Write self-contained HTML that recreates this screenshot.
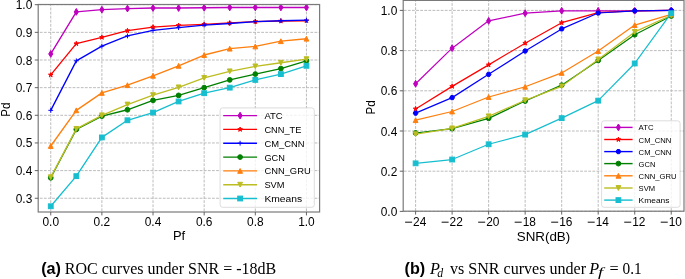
<!DOCTYPE html><html><head><meta charset="utf-8"><style>html,body{margin:0;padding:0;background:#fff;width:685px;height:279px;overflow:hidden}svg{display:block;will-change:transform}</style></head><body>
<svg width="685" height="279" viewBox="0 0 685 279">
<rect width="685" height="279" fill="#fff"/>
<defs><clipPath id="clipL"><rect x="38.2" y="4.5" width="281.4" height="207.5"/></clipPath></defs>
<path d="M50.75 212V4.5 M101.89 212V4.5 M153.03 212V4.5 M204.17 212V4.5 M255.31 212V4.5 M306.45 212V4.5" stroke="#b4b4b4" stroke-width="0.9" stroke-dasharray="2.8 1.3" stroke-dashoffset="3.3" fill="none"/>
<path d="M38.2 198.25H319.6 M38.2 170.6H319.6 M38.2 142.95H319.6 M38.2 115.3H319.6 M38.2 87.65H319.6 M38.2 60H319.6 M38.2 32.35H319.6 M38.2 4.7H319.6" stroke="#b4b4b4" stroke-width="0.9" stroke-dasharray="2.8 1.3" stroke-dashoffset="2.5" fill="none"/>
<g clip-path="url(#clipL)">
<polyline points="50.75,53.92 76.32,11.89 101.89,9.68 127.46,8.57 153.03,8.02 178.6,8.02 204.17,7.74 229.74,7.47 255.31,7.47 280.88,7.47 306.45,7.47" fill="none" stroke="#bf00bf" stroke-width="1.35" stroke-linejoin="round" stroke-linecap="butt"/>
<polygon points="50.75,50.52 52.79,53.92 50.75,57.31 48.71,53.92" fill="#bf00bf" stroke="#bf00bf" stroke-width="1.0" stroke-linejoin="miter"/>
<polygon points="76.32,8.5 78.36,11.89 76.32,15.28 74.28,11.89" fill="#bf00bf" stroke="#bf00bf" stroke-width="1.0" stroke-linejoin="miter"/>
<polygon points="101.89,6.28 103.93,9.68 101.89,13.07 99.85,9.68" fill="#bf00bf" stroke="#bf00bf" stroke-width="1.0" stroke-linejoin="miter"/>
<polygon points="127.46,5.18 129.5,8.57 127.46,11.96 125.42,8.57" fill="#bf00bf" stroke="#bf00bf" stroke-width="1.0" stroke-linejoin="miter"/>
<polygon points="153.03,4.62 155.07,8.02 153.03,11.41 150.99,8.02" fill="#bf00bf" stroke="#bf00bf" stroke-width="1.0" stroke-linejoin="miter"/>
<polygon points="178.6,4.62 180.64,8.02 178.6,11.41 176.56,8.02" fill="#bf00bf" stroke="#bf00bf" stroke-width="1.0" stroke-linejoin="miter"/>
<polygon points="204.17,4.35 206.21,7.74 204.17,11.14 202.13,7.74" fill="#bf00bf" stroke="#bf00bf" stroke-width="1.0" stroke-linejoin="miter"/>
<polygon points="229.74,4.07 231.78,7.47 229.74,10.86 227.7,7.47" fill="#bf00bf" stroke="#bf00bf" stroke-width="1.0" stroke-linejoin="miter"/>
<polygon points="255.31,4.07 257.35,7.47 255.31,10.86 253.27,7.47" fill="#bf00bf" stroke="#bf00bf" stroke-width="1.0" stroke-linejoin="miter"/>
<polygon points="280.88,4.07 282.92,7.47 280.88,10.86 278.84,7.47" fill="#bf00bf" stroke="#bf00bf" stroke-width="1.0" stroke-linejoin="miter"/>
<polygon points="306.45,4.07 308.49,7.47 306.45,10.86 304.41,7.47" fill="#bf00bf" stroke="#bf00bf" stroke-width="1.0" stroke-linejoin="miter"/>
<polyline points="50.75,74.93 76.32,43.69 101.89,37.33 127.46,30.69 153.03,27.1 178.6,25.44 204.17,24.33 229.74,22.95 255.31,21.57 280.88,21.01 306.45,20.74" fill="none" stroke="#ff0000" stroke-width="1.35" stroke-linejoin="round" stroke-linecap="butt"/>
<polygon points="50.75,72.53 51.29,74.19 53.03,74.19 51.62,75.21 52.16,76.87 50.75,75.85 49.34,76.87 49.88,75.21 48.47,74.19 50.21,74.19" fill="#ff0000" stroke="#ff0000" stroke-width="1.0" stroke-linejoin="miter"/>
<polygon points="76.32,41.29 76.86,42.94 78.6,42.94 77.19,43.97 77.73,45.63 76.32,44.6 74.91,45.63 75.45,43.97 74.04,42.94 75.78,42.94" fill="#ff0000" stroke="#ff0000" stroke-width="1.0" stroke-linejoin="miter"/>
<polygon points="101.89,34.93 102.43,36.59 104.17,36.59 102.76,37.61 103.3,39.27 101.89,38.24 100.48,39.27 101.02,37.61 99.61,36.59 101.35,36.59" fill="#ff0000" stroke="#ff0000" stroke-width="1.0" stroke-linejoin="miter"/>
<polygon points="127.46,28.29 128,29.95 129.74,29.95 128.33,30.97 128.87,32.63 127.46,31.61 126.05,32.63 126.59,30.97 125.18,29.95 126.92,29.95" fill="#ff0000" stroke="#ff0000" stroke-width="1.0" stroke-linejoin="miter"/>
<polygon points="153.03,24.7 153.57,26.35 155.31,26.35 153.9,27.38 154.44,29.04 153.03,28.01 151.62,29.04 152.16,27.38 150.75,26.35 152.49,26.35" fill="#ff0000" stroke="#ff0000" stroke-width="1.0" stroke-linejoin="miter"/>
<polygon points="178.6,23.04 179.14,24.7 180.88,24.7 179.47,25.72 180.01,27.38 178.6,26.35 177.19,27.38 177.73,25.72 176.32,24.7 178.06,24.7" fill="#ff0000" stroke="#ff0000" stroke-width="1.0" stroke-linejoin="miter"/>
<polygon points="204.17,21.93 204.71,23.59 206.45,23.59 205.04,24.61 205.58,26.27 204.17,25.25 202.76,26.27 203.3,24.61 201.89,23.59 203.63,23.59" fill="#ff0000" stroke="#ff0000" stroke-width="1.0" stroke-linejoin="miter"/>
<polygon points="229.74,20.55 230.28,22.21 232.02,22.21 230.61,23.23 231.15,24.89 229.74,23.87 228.33,24.89 228.87,23.23 227.46,22.21 229.2,22.21" fill="#ff0000" stroke="#ff0000" stroke-width="1.0" stroke-linejoin="miter"/>
<polygon points="255.31,19.17 255.85,20.82 257.59,20.82 256.18,21.85 256.72,23.51 255.31,22.48 253.9,23.51 254.44,21.85 253.03,20.82 254.77,20.82" fill="#ff0000" stroke="#ff0000" stroke-width="1.0" stroke-linejoin="miter"/>
<polygon points="280.88,18.61 281.42,20.27 283.16,20.27 281.75,21.3 282.29,22.96 280.88,21.93 279.47,22.96 280.01,21.3 278.6,20.27 280.34,20.27" fill="#ff0000" stroke="#ff0000" stroke-width="1.0" stroke-linejoin="miter"/>
<polygon points="306.45,18.34 306.99,20 308.73,20 307.32,21.02 307.86,22.68 306.45,21.65 305.04,22.68 305.58,21.02 304.17,20 305.91,20" fill="#ff0000" stroke="#ff0000" stroke-width="1.0" stroke-linejoin="miter"/>
<polyline points="50.75,110.32 76.32,60.83 101.89,46.17 127.46,35.94 153.03,30.41 178.6,27.65 204.17,25.16 229.74,23.5 255.31,21.57 280.88,20.74 306.45,20.18" fill="none" stroke="#0000ff" stroke-width="1.35" stroke-linejoin="round" stroke-linecap="butt"/>
<path d="M48.35 110.32H53.15M50.75 107.92V112.72" stroke="#0000ff" stroke-width="1.0" fill="none"/>
<path d="M73.92 60.83H78.72M76.32 58.43V63.23" stroke="#0000ff" stroke-width="1.0" fill="none"/>
<path d="M99.49 46.17H104.29M101.89 43.77V48.57" stroke="#0000ff" stroke-width="1.0" fill="none"/>
<path d="M125.06 35.94H129.86M127.46 33.54V38.34" stroke="#0000ff" stroke-width="1.0" fill="none"/>
<path d="M150.63 30.41H155.43M153.03 28.01V32.81" stroke="#0000ff" stroke-width="1.0" fill="none"/>
<path d="M176.2 27.65H181M178.6 25.25V30.05" stroke="#0000ff" stroke-width="1.0" fill="none"/>
<path d="M201.77 25.16H206.57M204.17 22.76V27.56" stroke="#0000ff" stroke-width="1.0" fill="none"/>
<path d="M227.34 23.5H232.14M229.74 21.1V25.9" stroke="#0000ff" stroke-width="1.0" fill="none"/>
<path d="M252.91 21.57H257.71M255.31 19.17V23.97" stroke="#0000ff" stroke-width="1.0" fill="none"/>
<path d="M278.48 20.74H283.28M280.88 18.34V23.14" stroke="#0000ff" stroke-width="1.0" fill="none"/>
<path d="M304.05 20.18H308.85M306.45 17.78V22.58" stroke="#0000ff" stroke-width="1.0" fill="none"/>
<polyline points="50.75,177.79 76.32,129.4 101.89,116.13 127.46,109.77 153.03,100.37 178.6,95.39 204.17,87.65 229.74,79.91 255.31,74.1 280.88,68.57 306.45,60.83" fill="none" stroke="#008000" stroke-width="1.35" stroke-linejoin="round" stroke-linecap="butt"/>
<circle cx="50.75" cy="177.79" r="2.4" fill="#008000" stroke="#008000" stroke-width="1.0"/>
<circle cx="76.32" cy="129.4" r="2.4" fill="#008000" stroke="#008000" stroke-width="1.0"/>
<circle cx="101.89" cy="116.13" r="2.4" fill="#008000" stroke="#008000" stroke-width="1.0"/>
<circle cx="127.46" cy="109.77" r="2.4" fill="#008000" stroke="#008000" stroke-width="1.0"/>
<circle cx="153.03" cy="100.37" r="2.4" fill="#008000" stroke="#008000" stroke-width="1.0"/>
<circle cx="178.6" cy="95.39" r="2.4" fill="#008000" stroke="#008000" stroke-width="1.0"/>
<circle cx="204.17" cy="87.65" r="2.4" fill="#008000" stroke="#008000" stroke-width="1.0"/>
<circle cx="229.74" cy="79.91" r="2.4" fill="#008000" stroke="#008000" stroke-width="1.0"/>
<circle cx="255.31" cy="74.1" r="2.4" fill="#008000" stroke="#008000" stroke-width="1.0"/>
<circle cx="280.88" cy="68.57" r="2.4" fill="#008000" stroke="#008000" stroke-width="1.0"/>
<circle cx="306.45" cy="60.83" r="2.4" fill="#008000" stroke="#008000" stroke-width="1.0"/>
<polyline points="50.75,145.99 76.32,110.32 101.89,92.9 127.46,85.16 153.03,75.76 178.6,65.81 204.17,55.02 229.74,48.66 255.31,46.45 280.88,41.2 306.45,38.71" fill="none" stroke="#ff7f0e" stroke-width="1.35" stroke-linejoin="round" stroke-linecap="butt"/>
<polygon points="50.75,143.59 48.35,148.39 53.15,148.39" fill="#ff7f0e" stroke="#ff7f0e" stroke-width="1.0"/>
<polygon points="76.32,107.92 73.92,112.72 78.72,112.72" fill="#ff7f0e" stroke="#ff7f0e" stroke-width="1.0"/>
<polygon points="101.89,90.5 99.49,95.3 104.29,95.3" fill="#ff7f0e" stroke="#ff7f0e" stroke-width="1.0"/>
<polygon points="127.46,82.76 125.06,87.56 129.86,87.56" fill="#ff7f0e" stroke="#ff7f0e" stroke-width="1.0"/>
<polygon points="153.03,73.36 150.63,78.16 155.43,78.16" fill="#ff7f0e" stroke="#ff7f0e" stroke-width="1.0"/>
<polygon points="178.6,63.41 176.2,68.21 181,68.21" fill="#ff7f0e" stroke="#ff7f0e" stroke-width="1.0"/>
<polygon points="204.17,52.62 201.77,57.42 206.57,57.42" fill="#ff7f0e" stroke="#ff7f0e" stroke-width="1.0"/>
<polygon points="229.74,46.26 227.34,51.06 232.14,51.06" fill="#ff7f0e" stroke="#ff7f0e" stroke-width="1.0"/>
<polygon points="255.31,44.05 252.91,48.85 257.71,48.85" fill="#ff7f0e" stroke="#ff7f0e" stroke-width="1.0"/>
<polygon points="280.88,38.8 278.48,43.6 283.28,43.6" fill="#ff7f0e" stroke="#ff7f0e" stroke-width="1.0"/>
<polygon points="306.45,36.31 304.05,41.11 308.85,41.11" fill="#ff7f0e" stroke="#ff7f0e" stroke-width="1.0"/>
<polyline points="50.75,177.24 76.32,128.85 101.89,115.3 127.46,104.52 153.03,95.12 178.6,87.37 204.17,77.97 229.74,71.34 255.31,66.36 280.88,62.76 306.45,59.17" fill="none" stroke="#bcbd22" stroke-width="1.35" stroke-linejoin="round" stroke-linecap="butt"/>
<polygon points="50.75,179.64 48.35,174.84 53.15,174.84" fill="#bcbd22" stroke="#bcbd22" stroke-width="1.0"/>
<polygon points="76.32,131.25 73.92,126.45 78.72,126.45" fill="#bcbd22" stroke="#bcbd22" stroke-width="1.0"/>
<polygon points="101.89,117.7 99.49,112.9 104.29,112.9" fill="#bcbd22" stroke="#bcbd22" stroke-width="1.0"/>
<polygon points="127.46,106.92 125.06,102.12 129.86,102.12" fill="#bcbd22" stroke="#bcbd22" stroke-width="1.0"/>
<polygon points="153.03,97.52 150.63,92.72 155.43,92.72" fill="#bcbd22" stroke="#bcbd22" stroke-width="1.0"/>
<polygon points="178.6,89.77 176.2,84.97 181,84.97" fill="#bcbd22" stroke="#bcbd22" stroke-width="1.0"/>
<polygon points="204.17,80.37 201.77,75.57 206.57,75.57" fill="#bcbd22" stroke="#bcbd22" stroke-width="1.0"/>
<polygon points="229.74,73.74 227.34,68.94 232.14,68.94" fill="#bcbd22" stroke="#bcbd22" stroke-width="1.0"/>
<polygon points="255.31,68.76 252.91,63.96 257.71,63.96" fill="#bcbd22" stroke="#bcbd22" stroke-width="1.0"/>
<polygon points="280.88,65.16 278.48,60.36 283.28,60.36" fill="#bcbd22" stroke="#bcbd22" stroke-width="1.0"/>
<polygon points="306.45,61.57 304.05,56.77 308.85,56.77" fill="#bcbd22" stroke="#bcbd22" stroke-width="1.0"/>
<polyline points="50.75,206.27 76.32,176.13 101.89,137.42 127.46,120.28 153.03,112.53 178.6,101.47 204.17,93.18 229.74,87.65 255.31,79.91 280.88,74.1 306.45,65.81" fill="none" stroke="#17becf" stroke-width="1.35" stroke-linejoin="round" stroke-linecap="butt"/>
<rect x="48.35" y="203.87" width="4.8" height="4.8" fill="#17becf" stroke="#17becf" stroke-width="1.0"/>
<rect x="73.92" y="173.73" width="4.8" height="4.8" fill="#17becf" stroke="#17becf" stroke-width="1.0"/>
<rect x="99.49" y="135.02" width="4.8" height="4.8" fill="#17becf" stroke="#17becf" stroke-width="1.0"/>
<rect x="125.06" y="117.88" width="4.8" height="4.8" fill="#17becf" stroke="#17becf" stroke-width="1.0"/>
<rect x="150.63" y="110.13" width="4.8" height="4.8" fill="#17becf" stroke="#17becf" stroke-width="1.0"/>
<rect x="176.2" y="99.07" width="4.8" height="4.8" fill="#17becf" stroke="#17becf" stroke-width="1.0"/>
<rect x="201.77" y="90.78" width="4.8" height="4.8" fill="#17becf" stroke="#17becf" stroke-width="1.0"/>
<rect x="227.34" y="85.25" width="4.8" height="4.8" fill="#17becf" stroke="#17becf" stroke-width="1.0"/>
<rect x="252.91" y="77.51" width="4.8" height="4.8" fill="#17becf" stroke="#17becf" stroke-width="1.0"/>
<rect x="278.48" y="71.7" width="4.8" height="4.8" fill="#17becf" stroke="#17becf" stroke-width="1.0"/>
<rect x="304.05" y="63.41" width="4.8" height="4.8" fill="#17becf" stroke="#17becf" stroke-width="1.0"/>
</g>
<rect x="38.2" y="4.5" width="281.4" height="207.5" fill="none" stroke="#7a7a7a" stroke-width="1.2"/>
<path d="M50.75 212v3.4 M101.89 212v3.4 M153.03 212v3.4 M204.17 212v3.4 M255.31 212v3.4 M306.45 212v3.4 M38.2 198.25h-3.4 M38.2 170.6h-3.4 M38.2 142.95h-3.4 M38.2 115.3h-3.4 M38.2 87.65h-3.4 M38.2 60h-3.4 M38.2 32.35h-3.4 M38.2 4.7h-3.4" stroke="#555" stroke-width="0.9" fill="none"/>
<text x="50.75" y="225.6" font-size="11.9" text-anchor="middle" font-family='"Liberation Sans", sans-serif' textLength="16.54" lengthAdjust="spacingAndGlyphs">0.0</text>
<text x="101.89" y="225.6" font-size="11.9" text-anchor="middle" font-family='"Liberation Sans", sans-serif' textLength="16.54" lengthAdjust="spacingAndGlyphs">0.2</text>
<text x="153.03" y="225.6" font-size="11.9" text-anchor="middle" font-family='"Liberation Sans", sans-serif' textLength="16.54" lengthAdjust="spacingAndGlyphs">0.4</text>
<text x="204.17" y="225.6" font-size="11.9" text-anchor="middle" font-family='"Liberation Sans", sans-serif' textLength="16.54" lengthAdjust="spacingAndGlyphs">0.6</text>
<text x="255.31" y="225.6" font-size="11.9" text-anchor="middle" font-family='"Liberation Sans", sans-serif' textLength="16.54" lengthAdjust="spacingAndGlyphs">0.8</text>
<text x="306.45" y="225.6" font-size="11.9" text-anchor="middle" font-family='"Liberation Sans", sans-serif' textLength="16.54" lengthAdjust="spacingAndGlyphs">1.0</text>
<text x="32.3" y="202.75" font-size="11.9" text-anchor="end" font-family='"Liberation Sans", sans-serif' textLength="16.54" lengthAdjust="spacingAndGlyphs">0.3</text>
<text x="32.3" y="175.1" font-size="11.9" text-anchor="end" font-family='"Liberation Sans", sans-serif' textLength="16.54" lengthAdjust="spacingAndGlyphs">0.4</text>
<text x="32.3" y="147.45" font-size="11.9" text-anchor="end" font-family='"Liberation Sans", sans-serif' textLength="16.54" lengthAdjust="spacingAndGlyphs">0.5</text>
<text x="32.3" y="119.8" font-size="11.9" text-anchor="end" font-family='"Liberation Sans", sans-serif' textLength="16.54" lengthAdjust="spacingAndGlyphs">0.6</text>
<text x="32.3" y="92.15" font-size="11.9" text-anchor="end" font-family='"Liberation Sans", sans-serif' textLength="16.54" lengthAdjust="spacingAndGlyphs">0.7</text>
<text x="32.3" y="64.5" font-size="11.9" text-anchor="end" font-family='"Liberation Sans", sans-serif' textLength="16.54" lengthAdjust="spacingAndGlyphs">0.8</text>
<text x="32.3" y="36.85" font-size="11.9" text-anchor="end" font-family='"Liberation Sans", sans-serif' textLength="16.54" lengthAdjust="spacingAndGlyphs">0.9</text>
<text x="32.3" y="9.2" font-size="11.9" text-anchor="end" font-family='"Liberation Sans", sans-serif' textLength="16.54" lengthAdjust="spacingAndGlyphs">1.0</text>
<text x="179" y="240.4" font-size="13" text-anchor="middle" font-family='"Liberation Sans", sans-serif' textLength="12.22" lengthAdjust="spacingAndGlyphs">Pf</text>
<text transform="translate(9.7 109.6) rotate(-90)" font-size="13" text-anchor="middle" font-family='"Liberation Sans", sans-serif' textLength="14.1" lengthAdjust="spacingAndGlyphs">Pd</text>
<rect x="220.1" y="107.9" width="94.2" height="99.4" rx="2.5" ry="2.5" fill="#ffffff" fill-opacity="0.8" stroke="#d4d4d4" stroke-width="0.8"/>
<path d="M223.2 115.6H257" stroke="#bf00bf" stroke-width="1.4"/>
<polygon points="240.1,112.21 242.14,115.6 240.1,118.99 238.06,115.6" fill="#bf00bf" stroke="#bf00bf" stroke-width="1.0" stroke-linejoin="miter"/>
<text x="264.4" y="119.1" font-size="9.7" text-anchor="start" font-family='"Liberation Sans", sans-serif' textLength="18.27" lengthAdjust="spacingAndGlyphs">ATC</text>
<path d="M223.2 129.4H257" stroke="#ff0000" stroke-width="1.4"/>
<polygon points="240.1,127 240.64,128.66 242.38,128.66 240.97,129.68 241.51,131.34 240.1,130.32 238.69,131.34 239.23,129.68 237.82,128.66 239.56,128.66" fill="#ff0000" stroke="#ff0000" stroke-width="1.0" stroke-linejoin="miter"/>
<text x="264.4" y="132.9" font-size="9.7" text-anchor="start" font-family='"Liberation Sans", sans-serif' textLength="37.03" lengthAdjust="spacingAndGlyphs">CNN_TE</text>
<path d="M223.2 143.2H257" stroke="#0000ff" stroke-width="1.4"/>
<path d="M237.7 143.2H242.5M240.1 140.8V145.6" stroke="#0000ff" stroke-width="1.0" fill="none"/>
<text x="264.4" y="146.7" font-size="9.7" text-anchor="start" font-family='"Liberation Sans", sans-serif' textLength="40.1" lengthAdjust="spacingAndGlyphs">CM_CNN</text>
<path d="M223.2 157.1H257" stroke="#008000" stroke-width="1.4"/>
<circle cx="240.1" cy="157.1" r="2.4" fill="#008000" stroke="#008000" stroke-width="1.0"/>
<text x="264.4" y="160.6" font-size="9.7" text-anchor="start" font-family='"Liberation Sans", sans-serif' textLength="20.47" lengthAdjust="spacingAndGlyphs">GCN</text>
<path d="M223.2 170.9H257" stroke="#ff7f0e" stroke-width="1.4"/>
<polygon points="240.1,168.5 237.7,173.3 242.5,173.3" fill="#ff7f0e" stroke="#ff7f0e" stroke-width="1.0"/>
<text x="264.4" y="174.4" font-size="9.7" text-anchor="start" font-family='"Liberation Sans", sans-serif' textLength="46.28" lengthAdjust="spacingAndGlyphs">CNN_GRU</text>
<path d="M223.2 184.7H257" stroke="#bcbd22" stroke-width="1.4"/>
<polygon points="240.1,187.1 237.7,182.3 242.5,182.3" fill="#bcbd22" stroke="#bcbd22" stroke-width="1.0"/>
<text x="264.4" y="188.2" font-size="9.7" text-anchor="start" font-family='"Liberation Sans", sans-serif' textLength="20.09" lengthAdjust="spacingAndGlyphs">SVM</text>
<path d="M223.2 198.5H257" stroke="#17becf" stroke-width="1.4"/>
<rect x="237.7" y="196.1" width="4.8" height="4.8" fill="#17becf" stroke="#17becf" stroke-width="1.0"/>
<text x="264.4" y="202" font-size="9.7" text-anchor="start" font-family='"Liberation Sans", sans-serif' textLength="37.76" lengthAdjust="spacingAndGlyphs">Kmeans</text>
<defs><clipPath id="clipR"><rect x="403.2" y="0.4" width="280.8" height="210.8"/></clipPath></defs>
<path d="M415.6 211.2V0.4 M452.12 211.2V0.4 M488.64 211.2V0.4 M525.16 211.2V0.4 M561.68 211.2V0.4 M598.2 211.2V0.4 M634.72 211.2V0.4 M671.24 211.2V0.4" stroke="#b4b4b4" stroke-width="0.9" stroke-dasharray="2.8 1.3" stroke-dashoffset="3.8" fill="none"/>
<path d="M403.2 211.4H684 M403.2 171.2H684 M403.2 131H684 M403.2 90.8H684 M403.2 50.6H684 M403.2 10.4H684" stroke="#b4b4b4" stroke-width="0.9" stroke-dasharray="2.8 1.3" stroke-dashoffset="3.5" fill="none"/>
<g clip-path="url(#clipR)">
<polyline points="415.6,83.77 452.12,48.19 488.64,20.85 525.16,13.21 561.68,10.8 598.2,10.8 634.72,10.8 671.24,10.4" fill="none" stroke="#bf00bf" stroke-width="1.2" stroke-linejoin="round" stroke-linecap="butt"/>
<polygon points="415.6,80.37 417.64,83.77 415.6,87.16 413.56,83.77" fill="#bf00bf" stroke="#bf00bf" stroke-width="1.0" stroke-linejoin="miter"/>
<polygon points="452.12,44.79 454.16,48.19 452.12,51.58 450.08,48.19" fill="#bf00bf" stroke="#bf00bf" stroke-width="1.0" stroke-linejoin="miter"/>
<polygon points="488.64,17.46 490.68,20.85 488.64,24.25 486.6,20.85" fill="#bf00bf" stroke="#bf00bf" stroke-width="1.0" stroke-linejoin="miter"/>
<polygon points="525.16,9.82 527.2,13.21 525.16,16.61 523.12,13.21" fill="#bf00bf" stroke="#bf00bf" stroke-width="1.0" stroke-linejoin="miter"/>
<polygon points="561.68,7.41 563.72,10.8 561.68,14.2 559.64,10.8" fill="#bf00bf" stroke="#bf00bf" stroke-width="1.0" stroke-linejoin="miter"/>
<polygon points="598.2,7.41 600.24,10.8 598.2,14.2 596.16,10.8" fill="#bf00bf" stroke="#bf00bf" stroke-width="1.0" stroke-linejoin="miter"/>
<polygon points="634.72,7.41 636.76,10.8 634.72,14.2 632.68,10.8" fill="#bf00bf" stroke="#bf00bf" stroke-width="1.0" stroke-linejoin="miter"/>
<polygon points="671.24,7.01 673.28,10.4 671.24,13.79 669.2,10.4" fill="#bf00bf" stroke="#bf00bf" stroke-width="1.0" stroke-linejoin="miter"/>
<polyline points="415.6,108.89 452.12,86.38 488.64,64.87 525.16,43.16 561.68,22.66 598.2,12.61 634.72,10.8 671.24,10.4" fill="none" stroke="#ff0000" stroke-width="1.2" stroke-linejoin="round" stroke-linecap="butt"/>
<polygon points="415.6,106.49 416.14,108.15 417.88,108.15 416.47,109.17 417.01,110.83 415.6,109.81 414.19,110.83 414.73,109.17 413.32,108.15 415.06,108.15" fill="#ff0000" stroke="#ff0000" stroke-width="1.0" stroke-linejoin="miter"/>
<polygon points="452.12,83.98 452.66,85.64 454.4,85.64 452.99,86.66 453.53,88.32 452.12,87.29 450.71,88.32 451.25,86.66 449.84,85.64 451.58,85.64" fill="#ff0000" stroke="#ff0000" stroke-width="1.0" stroke-linejoin="miter"/>
<polygon points="488.64,62.47 489.18,64.13 490.92,64.13 489.51,65.15 490.05,66.81 488.64,65.79 487.23,66.81 487.77,65.15 486.36,64.13 488.1,64.13" fill="#ff0000" stroke="#ff0000" stroke-width="1.0" stroke-linejoin="miter"/>
<polygon points="525.16,40.76 525.7,42.42 527.44,42.42 526.03,43.45 526.57,45.1 525.16,44.08 523.75,45.1 524.29,43.45 522.88,42.42 524.62,42.42" fill="#ff0000" stroke="#ff0000" stroke-width="1.0" stroke-linejoin="miter"/>
<polygon points="561.68,20.26 562.22,21.92 563.96,21.92 562.55,22.94 563.09,24.6 561.68,23.58 560.27,24.6 560.81,22.94 559.4,21.92 561.14,21.92" fill="#ff0000" stroke="#ff0000" stroke-width="1.0" stroke-linejoin="miter"/>
<polygon points="598.2,10.21 598.74,11.87 600.48,11.87 599.07,12.89 599.61,14.55 598.2,13.53 596.79,14.55 597.33,12.89 595.92,11.87 597.66,11.87" fill="#ff0000" stroke="#ff0000" stroke-width="1.0" stroke-linejoin="miter"/>
<polygon points="634.72,8.4 635.26,10.06 637,10.06 635.59,11.09 636.13,12.74 634.72,11.72 633.31,12.74 633.85,11.09 632.44,10.06 634.18,10.06" fill="#ff0000" stroke="#ff0000" stroke-width="1.0" stroke-linejoin="miter"/>
<polygon points="671.24,8 671.78,9.66 673.52,9.66 672.11,10.68 672.65,12.34 671.24,11.32 669.83,12.34 670.37,10.68 668.96,9.66 670.7,9.66" fill="#ff0000" stroke="#ff0000" stroke-width="1.0" stroke-linejoin="miter"/>
<polyline points="415.6,113.11 452.12,97.63 488.64,74.32 525.16,51 561.68,28.89 598.2,13.01 634.72,10.8 671.24,10.4" fill="none" stroke="#0000ff" stroke-width="1.2" stroke-linejoin="round" stroke-linecap="butt"/>
<polygon points="418,113.11 416.8,115.19 414.4,115.19 413.2,113.11 414.4,111.03 416.8,111.03" fill="#0000ff" stroke="#0000ff" stroke-width="1.0"/>
<polygon points="454.52,97.63 453.32,99.71 450.92,99.71 449.72,97.63 450.92,95.56 453.32,95.56" fill="#0000ff" stroke="#0000ff" stroke-width="1.0"/>
<polygon points="491.04,74.32 489.84,76.4 487.44,76.4 486.24,74.32 487.44,72.24 489.84,72.24" fill="#0000ff" stroke="#0000ff" stroke-width="1.0"/>
<polygon points="527.56,51 526.36,53.08 523.96,53.08 522.76,51 523.96,48.92 526.36,48.92" fill="#0000ff" stroke="#0000ff" stroke-width="1.0"/>
<polygon points="564.08,28.89 562.88,30.97 560.48,30.97 559.28,28.89 560.48,26.81 562.88,26.81" fill="#0000ff" stroke="#0000ff" stroke-width="1.0"/>
<polygon points="600.6,13.01 599.4,15.09 597,15.09 595.8,13.01 597,10.93 599.4,10.93" fill="#0000ff" stroke="#0000ff" stroke-width="1.0"/>
<polygon points="637.12,10.8 635.92,12.88 633.52,12.88 632.32,10.8 633.52,8.72 635.92,8.72" fill="#0000ff" stroke="#0000ff" stroke-width="1.0"/>
<polygon points="673.64,10.4 672.44,12.48 670.04,12.48 668.84,10.4 670.04,8.32 672.44,8.32" fill="#0000ff" stroke="#0000ff" stroke-width="1.0"/>
<polyline points="415.6,133.01 452.12,128.59 488.64,118.34 525.16,101.05 561.68,85.17 598.2,60.45 634.72,34.72 671.24,16.03" fill="none" stroke="#008000" stroke-width="1.2" stroke-linejoin="round" stroke-linecap="butt"/>
<circle cx="415.6" cy="133.01" r="2.4" fill="#008000" stroke="#008000" stroke-width="1.0"/>
<circle cx="452.12" cy="128.59" r="2.4" fill="#008000" stroke="#008000" stroke-width="1.0"/>
<circle cx="488.64" cy="118.34" r="2.4" fill="#008000" stroke="#008000" stroke-width="1.0"/>
<circle cx="525.16" cy="101.05" r="2.4" fill="#008000" stroke="#008000" stroke-width="1.0"/>
<circle cx="561.68" cy="85.17" r="2.4" fill="#008000" stroke="#008000" stroke-width="1.0"/>
<circle cx="598.2" cy="60.45" r="2.4" fill="#008000" stroke="#008000" stroke-width="1.0"/>
<circle cx="634.72" cy="34.72" r="2.4" fill="#008000" stroke="#008000" stroke-width="1.0"/>
<circle cx="671.24" cy="16.03" r="2.4" fill="#008000" stroke="#008000" stroke-width="1.0"/>
<polyline points="415.6,120.15 452.12,111.5 488.64,97.03 525.16,86.78 561.68,72.91 598.2,51 634.72,25.07 671.24,14.42" fill="none" stroke="#ff7f0e" stroke-width="1.2" stroke-linejoin="round" stroke-linecap="butt"/>
<polygon points="415.6,117.75 413.2,122.55 418,122.55" fill="#ff7f0e" stroke="#ff7f0e" stroke-width="1.0"/>
<polygon points="452.12,109.1 449.72,113.9 454.52,113.9" fill="#ff7f0e" stroke="#ff7f0e" stroke-width="1.0"/>
<polygon points="488.64,94.63 486.24,99.43 491.04,99.43" fill="#ff7f0e" stroke="#ff7f0e" stroke-width="1.0"/>
<polygon points="525.16,84.38 522.76,89.18 527.56,89.18" fill="#ff7f0e" stroke="#ff7f0e" stroke-width="1.0"/>
<polygon points="561.68,70.51 559.28,75.31 564.08,75.31" fill="#ff7f0e" stroke="#ff7f0e" stroke-width="1.0"/>
<polygon points="598.2,48.6 595.8,53.4 600.6,53.4" fill="#ff7f0e" stroke="#ff7f0e" stroke-width="1.0"/>
<polygon points="634.72,22.67 632.32,27.47 637.12,27.47" fill="#ff7f0e" stroke="#ff7f0e" stroke-width="1.0"/>
<polygon points="671.24,12.02 668.84,16.82 673.64,16.82" fill="#ff7f0e" stroke="#ff7f0e" stroke-width="1.0"/>
<polyline points="415.6,134.22 452.12,128.39 488.64,116.33 525.16,100.25 561.68,86.38 598.2,59.44 634.72,31.91 671.24,15.22" fill="none" stroke="#bcbd22" stroke-width="1.2" stroke-linejoin="round" stroke-linecap="butt"/>
<polygon points="415.6,136.62 413.2,131.82 418,131.82" fill="#bcbd22" stroke="#bcbd22" stroke-width="1.0"/>
<polygon points="452.12,130.79 449.72,125.99 454.52,125.99" fill="#bcbd22" stroke="#bcbd22" stroke-width="1.0"/>
<polygon points="488.64,118.73 486.24,113.93 491.04,113.93" fill="#bcbd22" stroke="#bcbd22" stroke-width="1.0"/>
<polygon points="525.16,102.65 522.76,97.85 527.56,97.85" fill="#bcbd22" stroke="#bcbd22" stroke-width="1.0"/>
<polygon points="561.68,88.78 559.28,83.98 564.08,83.98" fill="#bcbd22" stroke="#bcbd22" stroke-width="1.0"/>
<polygon points="598.2,61.84 595.8,57.04 600.6,57.04" fill="#bcbd22" stroke="#bcbd22" stroke-width="1.0"/>
<polygon points="634.72,34.31 632.32,29.51 637.12,29.51" fill="#bcbd22" stroke="#bcbd22" stroke-width="1.0"/>
<polygon points="671.24,17.62 668.84,12.82 673.64,12.82" fill="#bcbd22" stroke="#bcbd22" stroke-width="1.0"/>
<polyline points="415.6,163.36 452.12,159.54 488.64,144.27 525.16,134.62 561.68,118.14 598.2,100.65 634.72,63.46 671.24,13.21" fill="none" stroke="#17becf" stroke-width="1.2" stroke-linejoin="round" stroke-linecap="butt"/>
<rect x="413.2" y="160.96" width="4.8" height="4.8" fill="#17becf" stroke="#17becf" stroke-width="1.0"/>
<rect x="449.72" y="157.14" width="4.8" height="4.8" fill="#17becf" stroke="#17becf" stroke-width="1.0"/>
<rect x="486.24" y="141.87" width="4.8" height="4.8" fill="#17becf" stroke="#17becf" stroke-width="1.0"/>
<rect x="522.76" y="132.22" width="4.8" height="4.8" fill="#17becf" stroke="#17becf" stroke-width="1.0"/>
<rect x="559.28" y="115.74" width="4.8" height="4.8" fill="#17becf" stroke="#17becf" stroke-width="1.0"/>
<rect x="595.8" y="98.25" width="4.8" height="4.8" fill="#17becf" stroke="#17becf" stroke-width="1.0"/>
<rect x="632.32" y="61.06" width="4.8" height="4.8" fill="#17becf" stroke="#17becf" stroke-width="1.0"/>
<rect x="668.84" y="10.81" width="4.8" height="4.8" fill="#17becf" stroke="#17becf" stroke-width="1.0"/>
</g>
<rect x="403.2" y="0.4" width="280.8" height="210.8" fill="none" stroke="#7a7a7a" stroke-width="1.2"/>
<path d="M415.6 211.2v3.4 M452.12 211.2v3.4 M488.64 211.2v3.4 M525.16 211.2v3.4 M561.68 211.2v3.4 M598.2 211.2v3.4 M634.72 211.2v3.4 M671.24 211.2v3.4 M403.2 211.4h-3.4 M403.2 171.2h-3.4 M403.2 131h-3.4 M403.2 90.8h-3.4 M403.2 50.6h-3.4 M403.2 10.4h-3.4" stroke="#555" stroke-width="0.9" fill="none"/>
<rect x="405.1" y="221.7" width="7.0" height="0.95" fill="#000"/>
<text x="413.1" y="225.6" font-size="11.9" text-anchor="start" font-family='"Liberation Sans", sans-serif'>24</text>
<rect x="441.62" y="221.7" width="7.0" height="0.95" fill="#000"/>
<text x="449.62" y="225.6" font-size="11.9" text-anchor="start" font-family='"Liberation Sans", sans-serif'>22</text>
<rect x="478.14" y="221.7" width="7.0" height="0.95" fill="#000"/>
<text x="486.14" y="225.6" font-size="11.9" text-anchor="start" font-family='"Liberation Sans", sans-serif'>20</text>
<rect x="514.66" y="221.7" width="7.0" height="0.95" fill="#000"/>
<text x="522.66" y="225.6" font-size="11.9" text-anchor="start" font-family='"Liberation Sans", sans-serif'>18</text>
<rect x="551.18" y="221.7" width="7.0" height="0.95" fill="#000"/>
<text x="559.18" y="225.6" font-size="11.9" text-anchor="start" font-family='"Liberation Sans", sans-serif'>16</text>
<rect x="587.7" y="221.7" width="7.0" height="0.95" fill="#000"/>
<text x="595.7" y="225.6" font-size="11.9" text-anchor="start" font-family='"Liberation Sans", sans-serif'>14</text>
<rect x="624.22" y="221.7" width="7.0" height="0.95" fill="#000"/>
<text x="632.22" y="225.6" font-size="11.9" text-anchor="start" font-family='"Liberation Sans", sans-serif'>12</text>
<rect x="660.74" y="221.7" width="7.0" height="0.95" fill="#000"/>
<text x="668.74" y="225.6" font-size="11.9" text-anchor="start" font-family='"Liberation Sans", sans-serif'>10</text>
<text x="397.3" y="215.9" font-size="11.9" text-anchor="end" font-family='"Liberation Sans", sans-serif' textLength="16.54" lengthAdjust="spacingAndGlyphs">0.0</text>
<text x="397.3" y="175.7" font-size="11.9" text-anchor="end" font-family='"Liberation Sans", sans-serif' textLength="16.54" lengthAdjust="spacingAndGlyphs">0.2</text>
<text x="397.3" y="135.5" font-size="11.9" text-anchor="end" font-family='"Liberation Sans", sans-serif' textLength="16.54" lengthAdjust="spacingAndGlyphs">0.4</text>
<text x="397.3" y="95.3" font-size="11.9" text-anchor="end" font-family='"Liberation Sans", sans-serif' textLength="16.54" lengthAdjust="spacingAndGlyphs">0.6</text>
<text x="397.3" y="55.1" font-size="11.9" text-anchor="end" font-family='"Liberation Sans", sans-serif' textLength="16.54" lengthAdjust="spacingAndGlyphs">0.8</text>
<text x="397.3" y="14.9" font-size="11.9" text-anchor="end" font-family='"Liberation Sans", sans-serif' textLength="16.54" lengthAdjust="spacingAndGlyphs">1.0</text>
<text x="543.5" y="240.8" font-size="13" text-anchor="middle" font-family='"Liberation Sans", sans-serif' textLength="53.49" lengthAdjust="spacingAndGlyphs">SNR(dB)</text>
<text transform="translate(375.2 107.5) rotate(-90)" font-size="13" text-anchor="middle" font-family='"Liberation Sans", sans-serif' textLength="14.1" lengthAdjust="spacingAndGlyphs">Pd</text>
<rect x="601.6" y="120.8" width="78.5" height="86.5" rx="2.5" ry="2.5" fill="#ffffff" fill-opacity="0.8" stroke="#d4d4d4" stroke-width="0.8"/>
<path d="M604.2 127.4H632.6" stroke="#bf00bf" stroke-width="1.4"/>
<polygon points="618.4,124.01 620.44,127.4 618.4,130.79 616.36,127.4" fill="#bf00bf" stroke="#bf00bf" stroke-width="1.0" stroke-linejoin="miter"/>
<text x="638.6" y="130.4" font-size="7.9" text-anchor="start" font-family='"Liberation Sans", sans-serif' textLength="14.95" lengthAdjust="spacingAndGlyphs">ATC</text>
<path d="M604.2 139.5H632.6" stroke="#ff0000" stroke-width="1.4"/>
<polygon points="618.4,137.1 618.94,138.76 620.68,138.76 619.27,139.78 619.81,141.44 618.4,140.42 616.99,141.44 617.53,139.78 616.12,138.76 617.86,138.76" fill="#ff0000" stroke="#ff0000" stroke-width="1.0" stroke-linejoin="miter"/>
<text x="638.6" y="142.5" font-size="7.9" text-anchor="start" font-family='"Liberation Sans", sans-serif' textLength="32.82" lengthAdjust="spacingAndGlyphs">CM_CNN</text>
<path d="M604.2 151.6H632.6" stroke="#0000ff" stroke-width="1.4"/>
<polygon points="620.8,151.6 619.6,153.68 617.2,153.68 616,151.6 617.2,149.52 619.6,149.52" fill="#0000ff" stroke="#0000ff" stroke-width="1.0"/>
<text x="638.6" y="154.6" font-size="7.9" text-anchor="start" font-family='"Liberation Sans", sans-serif' textLength="32.82" lengthAdjust="spacingAndGlyphs">CM_CNN</text>
<path d="M604.2 163.6H632.6" stroke="#008000" stroke-width="1.4"/>
<circle cx="618.4" cy="163.6" r="2.4" fill="#008000" stroke="#008000" stroke-width="1.0"/>
<text x="638.6" y="166.6" font-size="7.9" text-anchor="start" font-family='"Liberation Sans", sans-serif' textLength="16.76" lengthAdjust="spacingAndGlyphs">GCN</text>
<path d="M604.2 175.8H632.6" stroke="#ff7f0e" stroke-width="1.4"/>
<polygon points="618.4,173.4 616,178.2 620.8,178.2" fill="#ff7f0e" stroke="#ff7f0e" stroke-width="1.0"/>
<text x="638.6" y="178.8" font-size="7.9" text-anchor="start" font-family='"Liberation Sans", sans-serif' textLength="37.89" lengthAdjust="spacingAndGlyphs">CNN_GRU</text>
<path d="M604.2 188H632.6" stroke="#bcbd22" stroke-width="1.4"/>
<polygon points="618.4,190.4 616,185.6 620.8,185.6" fill="#bcbd22" stroke="#bcbd22" stroke-width="1.0"/>
<text x="638.6" y="191" font-size="7.9" text-anchor="start" font-family='"Liberation Sans", sans-serif' textLength="16.45" lengthAdjust="spacingAndGlyphs">SVM</text>
<path d="M604.2 200.1H632.6" stroke="#17becf" stroke-width="1.4"/>
<rect x="616" y="197.7" width="4.8" height="4.8" fill="#17becf" stroke="#17becf" stroke-width="1.0"/>
<text x="638.6" y="203.1" font-size="7.9" text-anchor="start" font-family='"Liberation Sans", sans-serif' textLength="30.91" lengthAdjust="spacingAndGlyphs">Kmeans</text>
<text x="404.6" y="273.8" font-size="16.2" font-family='"Liberation Sans", sans-serif' font-weight="bold">(b)</text>
<text x="41.2" y="273.8" font-size="16.2" font-family='"Liberation Sans", sans-serif' font-weight="bold">(a)</text>
<text x="64.8" y="273.8" font-size="16.2" font-family='"Liberation Serif", serif' font-style="normal" textLength="211.4" lengthAdjust="spacingAndGlyphs">ROC curves under SNR = -18dB</text>
<text x="430" y="273.8" font-size="16.2" font-family='"Liberation Serif", serif' font-style="italic">P</text>
<text x="437.3" y="276.7" font-size="11.8" font-family='"Liberation Serif", serif' font-style="italic">d</text>
<text x="449.9" y="273.8" font-size="16.2" font-family='"Liberation Serif", serif' font-style="normal" textLength="136.23" lengthAdjust="spacingAndGlyphs">vs SNR curves under</text>
<text x="589.3" y="273.8" font-size="16.2" font-family='"Liberation Serif", serif' font-style="italic">P</text>
<text x="597.9" y="276.4" font-size="13.5" font-family='"Liberation Serif", serif' font-style="italic" textLength="5.2" lengthAdjust="spacingAndGlyphs">f</text>
<text x="609.4" y="273.8" font-size="16.2" font-family='"Liberation Serif", serif' font-style="normal">=</text>
<text x="622.5" y="273.8" font-size="16.2" font-family='"Liberation Serif", serif' font-style="normal" textLength="19.17" lengthAdjust="spacingAndGlyphs">0.1</text>
</svg></body></html>
